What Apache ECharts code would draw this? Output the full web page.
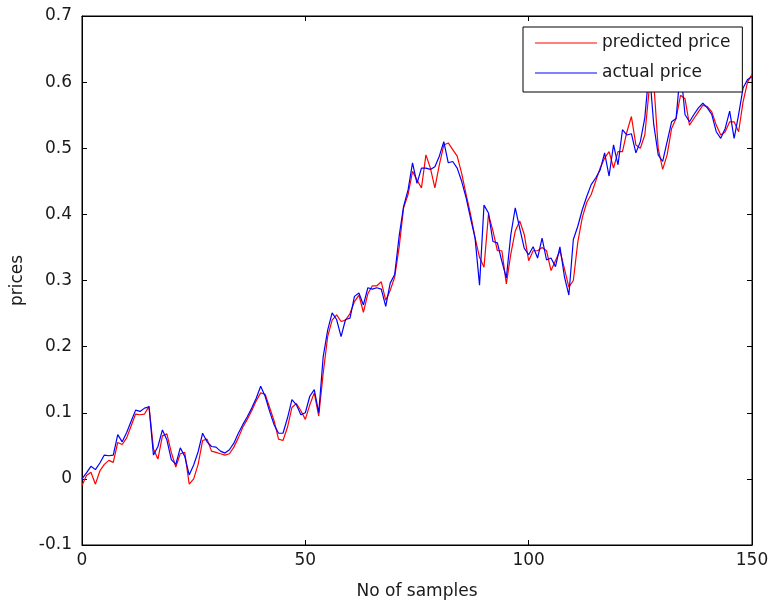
<!DOCTYPE html>
<html>
<head>
<meta charset="utf-8">
<script src="https://cdn.jsdelivr.net/npm/echarts@6/dist/echarts.min.js"></script>
<style>
html,body{margin:0;padding:0;background:#fff;}
#chart{width:769px;height:601px;}
</style>
</head>
<body>
<div id="chart"></div>
<script>
// Sample values (sample index 0..150)
var actualPrice = [
  0.000, 0.009, 0.019, 0.014, 0.024, 0.036, 0.035, 0.036, 0.067, 0.056,
  0.070, 0.087, 0.104, 0.102, 0.107, 0.109, 0.036, 0.049, 0.074, 0.059,
  0.029, 0.022, 0.047, 0.034, 0.006, 0.021, 0.041, 0.069, 0.056, 0.049,
  0.048, 0.042, 0.039, 0.044, 0.054, 0.069, 0.082, 0.094, 0.107, 0.122,
  0.140, 0.125, 0.102, 0.082, 0.069, 0.069, 0.092, 0.120, 0.112, 0.097,
  0.100, 0.125, 0.135, 0.100, 0.185, 0.225, 0.251, 0.241, 0.215, 0.241,
  0.243, 0.276, 0.281, 0.263, 0.289, 0.287, 0.289, 0.287, 0.261, 0.296,
  0.309, 0.367, 0.412, 0.437, 0.478, 0.447, 0.470, 0.470, 0.468, 0.472,
  0.488, 0.510, 0.478, 0.480, 0.470, 0.450, 0.425, 0.394, 0.364, 0.293,
  0.414, 0.402, 0.359, 0.357, 0.329, 0.304, 0.369, 0.410, 0.379, 0.349,
  0.339, 0.351, 0.334, 0.364, 0.331, 0.334, 0.321, 0.351, 0.306, 0.278,
  0.362, 0.382, 0.407, 0.427, 0.445, 0.455, 0.467, 0.493, 0.458, 0.505,
  0.475, 0.528, 0.520, 0.522, 0.493, 0.510, 0.546, 0.620, 0.536, 0.490,
  0.480, 0.510, 0.540, 0.545, 0.620, 0.551, 0.540, 0.551, 0.561, 0.568,
  0.561, 0.551, 0.525, 0.515, 0.530, 0.556, 0.515, 0.551, 0.591, 0.604,
  0.608
];
var predictedPrice = [
  -0.010, 0.005, 0.010, -0.008, 0.012, 0.022, 0.028, 0.025, 0.055, 0.052,
  0.062, 0.080, 0.098, 0.097, 0.098, 0.110, 0.045, 0.030, 0.065, 0.068,
  0.040, 0.018, 0.038, 0.040, -0.008, 0.000, 0.022, 0.058, 0.060, 0.042,
  0.040, 0.038, 0.036, 0.038, 0.048, 0.062, 0.078, 0.090, 0.103, 0.118,
  0.130, 0.128, 0.108, 0.088, 0.060, 0.058, 0.078, 0.108, 0.114, 0.103,
  0.090, 0.112, 0.130, 0.095, 0.160, 0.215, 0.240, 0.248, 0.238, 0.240,
  0.250, 0.268, 0.278, 0.252, 0.280, 0.292, 0.292, 0.298, 0.270, 0.285,
  0.305, 0.350, 0.410, 0.430, 0.465, 0.452, 0.440, 0.490, 0.470, 0.440,
  0.475, 0.505, 0.508, 0.498, 0.488, 0.462, 0.430, 0.400, 0.365, 0.335,
  0.320, 0.400, 0.375, 0.345, 0.345, 0.295, 0.340, 0.375, 0.390, 0.370,
  0.330, 0.345, 0.345, 0.350, 0.345, 0.315, 0.330, 0.345, 0.318, 0.290,
  0.300, 0.358, 0.395, 0.418, 0.430, 0.450, 0.470, 0.485, 0.495, 0.470,
  0.495, 0.495, 0.525, 0.548, 0.505, 0.500, 0.520, 0.590, 0.600, 0.500,
  0.468, 0.490, 0.530, 0.545, 0.580, 0.575, 0.535, 0.545, 0.555, 0.565,
  0.563, 0.555, 0.535, 0.520, 0.525, 0.540, 0.540, 0.525, 0.570, 0.600,
  0.612
];
var seriesNames = ['predicted price', 'actual price'];
var xTicks = [0, 50, 100, 150];
var yTicks = [-0.1, 0, 0.1, 0.2, 0.3, 0.4, 0.5, 0.6, 0.7];

var chart = echarts.init(document.getElementById('chart'), null, {renderer: 'canvas'});
var FONT = 'DejaVu Sans';
var TXT = '#1a1a1a';

function pairs(arr) { return arr.map(function (v, i) { return [i, v]; }); }

var tickStyle = {show: true, inside: true, length: 5, lineStyle: {color: '#000', width: 1}};
var axisLineStyle = {show: true, onZero: false, lineStyle: {color: '#000', width: 1}};

var option = {
  animation: false,
  backgroundColor: '#ffffff',
  grid: {left: 82, right: 17, top: 16, bottom: 56, show: true, borderColor: '#000', borderWidth: 1,
    backgroundColor: '#fff', containLabel: false, outerBoundsMode: 'none'},
  legend: {
    data: seriesNames,
    orient: 'vertical',
    left: 523,
    top: 27,
    padding: [6, 12, 9, 12],
    itemWidth: 62,
    itemHeight: 14,
    itemGap: 10,
    backgroundColor: '#fff',
    borderColor: '#000',
    borderWidth: 1,
    borderRadius: 0,
    icon: 'path://M0,0 L62,0 L62,1 L0,1 Z',
    textStyle: {fontFamily: FONT, fontSize: 17, color: TXT, lineHeight: 20, padding: [0, 0, 0, 0]}
  },
  xAxis: [{
    type: 'value', min: xTicks[0], max: xTicks[xTicks.length - 1], interval: 50,
    position: 'bottom',
    name: 'No of samples', nameLocation: 'middle', nameGap: 38,
    nameTextStyle: {fontFamily: FONT, fontSize: 17, color: TXT},
    axisLine: axisLineStyle, axisTick: tickStyle, splitLine: {show: false},
    axisLabel: {fontFamily: FONT, fontSize: 17, color: TXT, margin: 7}
  }, {
    type: 'value', min: xTicks[0], max: xTicks[xTicks.length - 1], interval: 50,
    position: 'top',
    axisLine: axisLineStyle, axisTick: tickStyle, splitLine: {show: false},
    axisLabel: {show: false}
  }],
  yAxis: [{
    type: 'value', min: yTicks[0], max: yTicks[yTicks.length - 1], interval: 0.1,
    position: 'left',
    name: 'prices', nameLocation: 'middle', nameGap: 56,
    nameTextStyle: {fontFamily: FONT, fontSize: 17, color: TXT},
    axisLine: axisLineStyle, axisTick: tickStyle, splitLine: {show: false},
    axisLabel: {fontFamily: FONT, fontSize: 17, color: TXT, margin: 10,
      formatter: function (v) { return String(+v.toFixed(1)); }}
  }, {
    type: 'value', min: yTicks[0], max: yTicks[yTicks.length - 1], interval: 0.1,
    position: 'right',
    axisLine: axisLineStyle, axisTick: tickStyle, splitLine: {show: false},
    axisLabel: {show: false}
  }],
  series: [{
    name: seriesNames[0], type: 'line', data: pairs(predictedPrice),
    xAxisIndex: 0, yAxisIndex: 0,
    showSymbol: false, symbol: 'none',
    lineStyle: {color: '#ff0000', width: 1.2}, itemStyle: {color: '#ff0000'}
  }, {
    name: seriesNames[1], type: 'line', data: pairs(actualPrice),
    xAxisIndex: 0, yAxisIndex: 0,
    showSymbol: false, symbol: 'none',
    lineStyle: {color: '#0000ff', width: 1.2}, itemStyle: {color: '#0000ff'}
  }]
};
chart.setOption(option);
</script>
</body>
</html>
